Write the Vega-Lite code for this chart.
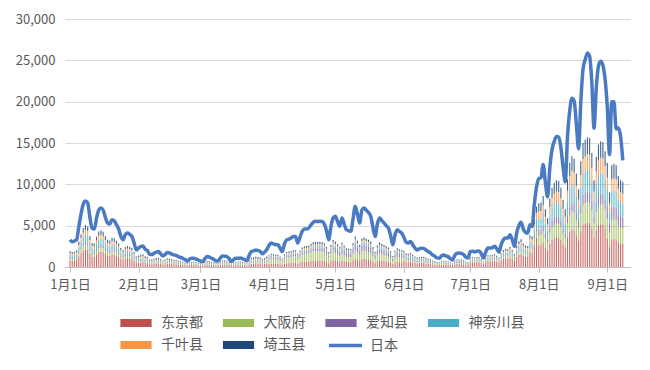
{
"$schema": "https://vega.github.io/schema/vega-lite/v6.json",
"autosize": "none",
"width": 565,
"height": 248,
"padding": {"left": 65, "top": 19, "right": 20, "bottom": 103},
"background": "white",
"config": {"font": "Noto Sans CJK SC", "view": {"stroke": null}},
"datasets": {
"names": [
{"k":"T","name":"东京都","i":1},{"k":"O","name":"大阪府","i":2},{"k":"A","name":"爱知县","i":3},
{"k":"K","name":"神奈川县","i":4},{"k":"C","name":"千叶县","i":5},{"k":"S","name":"埼玉县","i":6}],
"days": [
{"d":"2021-01-01","j":3290,"T":798,"O":228,"A":114,"K":323,"C":209,"S":228},
{"d":"2021-01-02","j":3050,"T":756,"O":216,"A":108,"K":306,"C":198,"S":216},
{"d":"2021-01-03","j":3150,"T":777,"O":222,"A":111,"K":315,"C":204,"S":222},
{"d":"2021-01-04","j":3300,"T":840,"O":240,"A":120,"K":340,"C":220,"S":240},
{"d":"2021-01-05","j":4900,"T":1277,"O":365,"A":182,"K":517,"C":334,"S":365},
{"d":"2021-01-06","j":6400,"T":1667,"O":476,"A":238,"K":675,"C":437,"S":476},
{"d":"2021-01-07","j":7600,"T":1978,"O":565,"A":283,"K":801,"C":518,"S":565},
{"d":"2021-01-08","j":7970,"T":2142,"O":612,"A":306,"K":867,"C":561,"S":612},
{"d":"2021-01-09","j":7760,"T":2058,"O":588,"A":294,"K":833,"C":539,"S":588},
{"d":"2021-01-10","j":6000,"T":1562,"O":446,"A":223,"K":632,"C":409,"S":446},
{"d":"2021-01-11","j":4700,"T":1222,"O":349,"A":175,"K":495,"C":320,"S":349},
{"d":"2021-01-12","j":4600,"T":1197,"O":342,"A":171,"K":485,"C":314,"S":342},
{"d":"2021-01-13","j":5900,"T":1537,"O":439,"A":220,"K":622,"C":403,"S":439},
{"d":"2021-01-14","j":6900,"T":1798,"O":514,"A":257,"K":728,"C":471,"S":514},
{"d":"2021-01-15","j":7150,"T":1861,"O":532,"A":266,"K":753,"C":487,"S":532},
{"d":"2021-01-16","j":6870,"T":1789,"O":511,"A":256,"K":724,"C":469,"S":511},
{"d":"2021-01-17","j":6000,"T":1562,"O":446,"A":223,"K":632,"C":409,"S":446},
{"d":"2021-01-18","j":5330,"T":1386,"O":396,"A":198,"K":561,"C":363,"S":396},
{"d":"2021-01-19","j":5200,"T":1352,"O":386,"A":193,"K":547,"C":354,"S":386},
{"d":"2021-01-20","j":5730,"T":1491,"O":426,"A":213,"K":604,"C":391,"S":426},
{"d":"2021-01-21","j":5600,"T":1457,"O":416,"A":208,"K":590,"C":382,"S":416},
{"d":"2021-01-22","j":5120,"T":1331,"O":380,"A":190,"K":539,"C":349,"S":380},
{"d":"2021-01-23","j":4600,"T":1197,"O":342,"A":171,"K":485,"C":314,"S":342},
{"d":"2021-01-24","j":3700,"T":962,"O":275,"A":137,"K":389,"C":252,"S":275},
{"d":"2021-01-25","j":3290,"T":857,"O":245,"A":122,"K":347,"C":224,"S":245},
{"d":"2021-01-26","j":3900,"T":1016,"O":290,"A":145,"K":411,"C":266,"S":290},
{"d":"2021-01-27","j":4100,"T":1067,"O":305,"A":152,"K":432,"C":279,"S":305},
{"d":"2021-01-28","j":3950,"T":1029,"O":294,"A":147,"K":417,"C":270,"S":294},
{"d":"2021-01-29","j":3700,"T":962,"O":275,"A":137,"K":389,"C":252,"S":275},
{"d":"2021-01-30","j":2900,"T":756,"O":216,"A":108,"K":306,"C":198,"S":216},
{"d":"2021-01-31","j":2070,"T":538,"O":154,"A":77,"K":218,"C":141,"S":154},
{"d":"2021-02-01","j":2300,"T":511,"O":166,"A":69,"K":235,"C":193,"S":207},
{"d":"2021-02-02","j":2480,"T":551,"O":179,"A":75,"K":253,"C":209,"S":224},
{"d":"2021-02-03","j":2550,"T":566,"O":184,"A":77,"K":260,"C":214,"S":230},
{"d":"2021-02-04","j":2150,"T":477,"O":155,"A":65,"K":219,"C":181,"S":194},
{"d":"2021-02-05","j":2000,"T":444,"O":144,"A":60,"K":204,"C":168,"S":180},
{"d":"2021-02-06","j":1540,"T":340,"O":110,"A":46,"K":156,"C":129,"S":138},
{"d":"2021-02-07","j":1500,"T":333,"O":108,"A":45,"K":153,"C":126,"S":135},
{"d":"2021-02-08","j":1670,"T":370,"O":120,"A":50,"K":170,"C":140,"S":150},
{"d":"2021-02-09","j":1800,"T":400,"O":130,"A":54,"K":184,"C":151,"S":162},
{"d":"2021-02-10","j":1870,"T":414,"O":134,"A":56,"K":190,"C":157,"S":168},
{"d":"2021-02-11","j":1600,"T":355,"O":115,"A":48,"K":163,"C":134,"S":144},
{"d":"2021-02-12","j":1340,"T":296,"O":96,"A":40,"K":136,"C":112,"S":120},
{"d":"2021-02-13","j":1500,"T":333,"O":108,"A":45,"K":153,"C":126,"S":135},
{"d":"2021-02-14","j":1750,"T":389,"O":126,"A":53,"K":179,"C":147,"S":158},
{"d":"2021-02-15","j":1700,"T":377,"O":122,"A":51,"K":173,"C":143,"S":153},
{"d":"2021-02-16","j":1550,"T":344,"O":112,"A":47,"K":158,"C":130,"S":140},
{"d":"2021-02-17","j":1460,"T":326,"O":106,"A":44,"K":150,"C":123,"S":132},
{"d":"2021-02-18","j":1400,"T":311,"O":101,"A":42,"K":143,"C":118,"S":126},
{"d":"2021-02-19","j":1260,"T":281,"O":91,"A":38,"K":129,"C":106,"S":114},
{"d":"2021-02-20","j":1150,"T":255,"O":83,"A":35,"K":117,"C":97,"S":104},
{"d":"2021-02-21","j":1060,"T":237,"O":77,"A":32,"K":109,"C":90,"S":96},
{"d":"2021-02-22","j":900,"T":200,"O":65,"A":27,"K":92,"C":76,"S":81},
{"d":"2021-02-23","j":730,"T":163,"O":53,"A":22,"K":75,"C":62,"S":66},
{"d":"2021-02-24","j":950,"T":211,"O":68,"A":29,"K":97,"C":80,"S":86},
{"d":"2021-02-25","j":1060,"T":237,"O":77,"A":32,"K":109,"C":90,"S":96},
{"d":"2021-02-26","j":1060,"T":237,"O":77,"A":32,"K":109,"C":90,"S":96},
{"d":"2021-02-27","j":950,"T":211,"O":68,"A":29,"K":97,"C":80,"S":86},
{"d":"2021-02-28","j":850,"T":189,"O":61,"A":26,"K":87,"C":71,"S":77},
{"d":"2021-03-01","j":700,"T":139,"O":59,"A":21,"K":67,"C":63,"S":71},
{"d":"2021-03-02","j":650,"T":129,"O":55,"A":20,"K":62,"C":59,"S":66},
{"d":"2021-03-03","j":1000,"T":198,"O":84,"A":30,"K":96,"C":90,"S":102},
{"d":"2021-03-04","j":1260,"T":251,"O":106,"A":38,"K":122,"C":114,"S":129},
{"d":"2021-03-05","j":1200,"T":238,"O":101,"A":36,"K":115,"C":108,"S":122},
{"d":"2021-03-06","j":1060,"T":211,"O":90,"A":32,"K":102,"C":96,"S":109},
{"d":"2021-03-07","j":950,"T":188,"O":80,"A":29,"K":91,"C":86,"S":97},
{"d":"2021-03-08","j":750,"T":149,"O":63,"A":23,"K":72,"C":68,"S":77},
{"d":"2021-03-09","j":730,"T":145,"O":62,"A":22,"K":70,"C":66,"S":75},
{"d":"2021-03-10","j":1100,"T":218,"O":92,"A":33,"K":106,"C":99,"S":112},
{"d":"2021-03-11","j":1340,"T":264,"O":112,"A":40,"K":128,"C":120,"S":136},
{"d":"2021-03-12","j":1300,"T":257,"O":109,"A":39,"K":125,"C":117,"S":133},
{"d":"2021-03-13","j":1260,"T":251,"O":106,"A":38,"K":122,"C":114,"S":129},
{"d":"2021-03-14","j":1000,"T":198,"O":84,"A":30,"K":96,"C":90,"S":102},
{"d":"2021-03-15","j":650,"T":129,"O":55,"A":20,"K":62,"C":59,"S":66},
{"d":"2021-03-16","j":900,"T":178,"O":76,"A":27,"K":86,"C":81,"S":92},
{"d":"2021-03-17","j":1060,"T":211,"O":90,"A":32,"K":102,"C":96,"S":109},
{"d":"2021-03-18","j":1060,"T":211,"O":90,"A":32,"K":102,"C":96,"S":109},
{"d":"2021-03-19","j":1080,"T":215,"O":91,"A":33,"K":104,"C":98,"S":111},
{"d":"2021-03-20","j":1000,"T":198,"O":84,"A":30,"K":96,"C":90,"S":102},
{"d":"2021-03-21","j":900,"T":178,"O":76,"A":27,"K":86,"C":81,"S":92},
{"d":"2021-03-22","j":770,"T":152,"O":64,"A":23,"K":74,"C":69,"S":78},
{"d":"2021-03-23","j":1400,"T":277,"O":118,"A":42,"K":134,"C":126,"S":143},
{"d":"2021-03-24","j":1870,"T":370,"O":157,"A":56,"K":179,"C":168,"S":190},
{"d":"2021-03-25","j":1950,"T":386,"O":164,"A":59,"K":187,"C":176,"S":199},
{"d":"2021-03-26","j":2070,"T":409,"O":174,"A":62,"K":198,"C":186,"S":211},
{"d":"2021-03-27","j":2000,"T":396,"O":168,"A":60,"K":192,"C":180,"S":204},
{"d":"2021-03-28","j":1900,"T":376,"O":160,"A":57,"K":182,"C":171,"S":194},
{"d":"2021-03-29","j":1600,"T":317,"O":134,"A":48,"K":154,"C":144,"S":163},
{"d":"2021-03-30","j":1800,"T":356,"O":151,"A":54,"K":173,"C":162,"S":184},
{"d":"2021-03-31","j":2100,"T":416,"O":176,"A":63,"K":202,"C":189,"S":214},
{"d":"2021-04-01","j":2600,"T":358,"O":543,"A":172,"K":129,"C":100,"S":129},
{"d":"2021-04-02","j":2890,"T":398,"O":604,"A":191,"K":143,"C":111,"S":143},
{"d":"2021-04-03","j":2800,"T":385,"O":585,"A":185,"K":139,"C":108,"S":139},
{"d":"2021-04-04","j":2700,"T":373,"O":566,"A":179,"K":134,"C":104,"S":134},
{"d":"2021-04-05","j":2680,"T":368,"O":559,"A":176,"K":132,"C":103,"S":132},
{"d":"2021-04-06","j":2300,"T":318,"O":483,"A":152,"K":114,"C":89,"S":114},
{"d":"2021-04-07","j":1870,"T":258,"O":391,"A":124,"K":93,"C":72,"S":93},
{"d":"2021-04-08","j":2800,"T":385,"O":585,"A":185,"K":139,"C":108,"S":139},
{"d":"2021-04-09","j":3300,"T":455,"O":692,"A":218,"K":164,"C":127,"S":164},
{"d":"2021-04-10","j":3370,"T":463,"O":703,"A":222,"K":167,"C":130,"S":167},
{"d":"2021-04-11","j":3500,"T":483,"O":733,"A":232,"K":174,"C":135,"S":174},
{"d":"2021-04-12","j":3700,"T":510,"O":775,"A":245,"K":184,"C":143,"S":184},
{"d":"2021-04-13","j":3700,"T":510,"O":775,"A":245,"K":184,"C":143,"S":184},
{"d":"2021-04-14","j":2890,"T":398,"O":604,"A":191,"K":143,"C":111,"S":143},
{"d":"2021-04-15","j":3600,"T":495,"O":752,"A":238,"K":178,"C":139,"S":178},
{"d":"2021-04-16","j":4300,"T":593,"O":901,"A":284,"K":213,"C":166,"S":213},
{"d":"2021-04-17","j":4590,"T":630,"O":958,"A":302,"K":227,"C":176,"S":227},
{"d":"2021-04-18","j":4600,"T":633,"O":961,"A":304,"K":228,"C":177,"S":228},
{"d":"2021-04-19","j":4720,"T":650,"O":988,"A":312,"K":234,"C":182,"S":234},
{"d":"2021-04-20","j":5100,"T":703,"O":1068,"A":337,"K":253,"C":197,"S":253},
{"d":"2021-04-21","j":5410,"T":745,"O":1132,"A":358,"K":268,"C":209,"S":268},
{"d":"2021-04-22","j":5530,"T":760,"O":1155,"A":365,"K":274,"C":213,"S":274},
{"d":"2021-04-23","j":5500,"T":758,"O":1151,"A":364,"K":273,"C":212,"S":273},
{"d":"2021-04-24","j":5530,"T":760,"O":1155,"A":365,"K":274,"C":213,"S":274},
{"d":"2021-04-25","j":5500,"T":758,"O":1151,"A":364,"K":273,"C":212,"S":273},
{"d":"2021-04-26","j":5200,"T":715,"O":1087,"A":343,"K":257,"C":200,"S":257},
{"d":"2021-04-27","j":4400,"T":605,"O":920,"A":290,"K":218,"C":169,"S":218},
{"d":"2021-04-28","j":3290,"T":453,"O":688,"A":217,"K":163,"C":127,"S":163},
{"d":"2021-04-29","j":4900,"T":675,"O":1026,"A":324,"K":243,"C":189,"S":243},
{"d":"2021-04-30","j":5930,"T":815,"O":1239,"A":391,"K":293,"C":228,"S":293},
{"d":"2021-05-01","j":6140,"T":829,"O":860,"A":614,"K":307,"C":184,"S":276},
{"d":"2021-05-02","j":5500,"T":743,"O":770,"A":550,"K":275,"C":165,"S":248},
{"d":"2021-05-03","j":4920,"T":664,"O":689,"A":492,"K":246,"C":148,"S":221},
{"d":"2021-05-04","j":5930,"T":802,"O":832,"A":594,"K":297,"C":178,"S":267},
{"d":"2021-05-05","j":5200,"T":702,"O":728,"A":520,"K":260,"C":156,"S":234},
{"d":"2021-05-06","j":4510,"T":610,"O":633,"A":452,"K":226,"C":136,"S":203},
{"d":"2021-05-07","j":4400,"T":594,"O":616,"A":440,"K":220,"C":132,"S":198},
{"d":"2021-05-08","j":4310,"T":583,"O":605,"A":432,"K":216,"C":130,"S":194},
{"d":"2021-05-09","j":5800,"T":783,"O":812,"A":580,"K":290,"C":174,"S":261},
{"d":"2021-05-10","j":7360,"T":994,"O":1030,"A":736,"K":368,"C":221,"S":331},
{"d":"2021-05-11","j":6400,"T":864,"O":896,"A":640,"K":320,"C":192,"S":288},
{"d":"2021-05-12","j":5330,"T":721,"O":748,"A":534,"K":267,"C":160,"S":240},
{"d":"2021-05-13","j":6900,"T":932,"O":966,"A":690,"K":345,"C":207,"S":311},
{"d":"2021-05-14","j":7150,"T":967,"O":1002,"A":716,"K":358,"C":215,"S":322},
{"d":"2021-05-15","j":6870,"T":929,"O":963,"A":688,"K":344,"C":206,"S":310},
{"d":"2021-05-16","j":6600,"T":891,"O":924,"A":660,"K":330,"C":198,"S":297},
{"d":"2021-05-17","j":6140,"T":829,"O":860,"A":614,"K":307,"C":184,"S":276},
{"d":"2021-05-18","j":4800,"T":648,"O":672,"A":480,"K":240,"C":144,"S":216},
{"d":"2021-05-19","j":3700,"T":500,"O":518,"A":370,"K":185,"C":111,"S":167},
{"d":"2021-05-20","j":5200,"T":702,"O":728,"A":520,"K":260,"C":156,"S":234},
{"d":"2021-05-21","j":5930,"T":802,"O":832,"A":594,"K":297,"C":178,"S":267},
{"d":"2021-05-22","j":5600,"T":756,"O":784,"A":560,"K":280,"C":168,"S":252},
{"d":"2021-05-23","j":5330,"T":721,"O":748,"A":534,"K":267,"C":160,"S":240},
{"d":"2021-05-24","j":5000,"T":675,"O":700,"A":500,"K":250,"C":150,"S":225},
{"d":"2021-05-25","j":4720,"T":637,"O":661,"A":472,"K":236,"C":142,"S":212},
{"d":"2021-05-26","j":3800,"T":513,"O":532,"A":380,"K":190,"C":114,"S":171},
{"d":"2021-05-27","j":2680,"T":362,"O":375,"A":268,"K":134,"C":80,"S":121},
{"d":"2021-05-28","j":3900,"T":527,"O":546,"A":390,"K":195,"C":117,"S":176},
{"d":"2021-05-29","j":4510,"T":610,"O":633,"A":452,"K":226,"C":136,"S":203},
{"d":"2021-05-30","j":4300,"T":581,"O":602,"A":430,"K":215,"C":129,"S":194},
{"d":"2021-05-31","j":4100,"T":554,"O":574,"A":410,"K":205,"C":123,"S":185},
{"d":"2021-06-01","j":3600,"T":752,"O":297,"A":238,"K":277,"C":178,"S":238},
{"d":"2021-06-02","j":3000,"T":627,"O":248,"A":198,"K":231,"C":149,"S":198},
{"d":"2021-06-03","j":2900,"T":608,"O":240,"A":192,"K":224,"C":144,"S":192},
{"d":"2021-06-04","j":3090,"T":646,"O":255,"A":204,"K":238,"C":153,"S":204},
{"d":"2021-06-05","j":2700,"T":566,"O":224,"A":179,"K":209,"C":134,"S":179},
{"d":"2021-06-06","j":2300,"T":483,"O":191,"A":152,"K":178,"C":114,"S":152},
{"d":"2021-06-07","j":2070,"T":433,"O":171,"A":137,"K":160,"C":103,"S":137},
{"d":"2021-06-08","j":2200,"T":460,"O":182,"A":145,"K":169,"C":109,"S":145},
{"d":"2021-06-09","j":2280,"T":475,"O":188,"A":150,"K":175,"C":113,"S":150},
{"d":"2021-06-10","j":2250,"T":471,"O":186,"A":149,"K":174,"C":112,"S":149},
{"d":"2021-06-11","j":2050,"T":429,"O":170,"A":136,"K":158,"C":102,"S":136},
{"d":"2021-06-12","j":1870,"T":391,"O":155,"A":124,"K":144,"C":93,"S":124},
{"d":"2021-06-13","j":1700,"T":357,"O":141,"A":113,"K":132,"C":85,"S":113},
{"d":"2021-06-14","j":1460,"T":304,"O":120,"A":96,"K":112,"C":72,"S":96},
{"d":"2021-06-15","j":1300,"T":274,"O":108,"A":86,"K":101,"C":65,"S":86},
{"d":"2021-06-16","j":1100,"T":232,"O":92,"A":73,"K":85,"C":55,"S":73},
{"d":"2021-06-17","j":1060,"T":220,"O":87,"A":70,"K":81,"C":52,"S":70},
{"d":"2021-06-18","j":1350,"T":281,"O":111,"A":89,"K":104,"C":67,"S":89},
{"d":"2021-06-19","j":1460,"T":304,"O":120,"A":96,"K":112,"C":72,"S":96},
{"d":"2021-06-20","j":1330,"T":277,"O":110,"A":88,"K":102,"C":66,"S":88},
{"d":"2021-06-21","j":1260,"T":262,"O":104,"A":83,"K":97,"C":62,"S":83},
{"d":"2021-06-22","j":1000,"T":209,"O":83,"A":66,"K":77,"C":50,"S":66},
{"d":"2021-06-23","j":850,"T":179,"O":71,"A":56,"K":66,"C":42,"S":56},
{"d":"2021-06-24","j":1400,"T":293,"O":116,"A":92,"K":108,"C":69,"S":92},
{"d":"2021-06-25","j":1670,"T":350,"O":138,"A":110,"K":129,"C":83,"S":110},
{"d":"2021-06-26","j":1700,"T":357,"O":141,"A":113,"K":132,"C":85,"S":113},
{"d":"2021-06-27","j":1650,"T":346,"O":137,"A":109,"K":127,"C":82,"S":109},
{"d":"2021-06-28","j":1500,"T":315,"O":125,"A":100,"K":116,"C":75,"S":100},
{"d":"2021-06-29","j":1200,"T":251,"O":99,"A":79,"K":92,"C":59,"S":79},
{"d":"2021-06-30","j":1100,"T":232,"O":92,"A":73,"K":85,"C":55,"S":73},
{"d":"2021-07-01","j":1850,"T":552,"O":138,"A":46,"K":184,"C":115,"S":115},
{"d":"2021-07-02","j":1900,"T":566,"O":142,"A":47,"K":189,"C":118,"S":118},
{"d":"2021-07-03","j":1850,"T":552,"O":138,"A":46,"K":184,"C":115,"S":115},
{"d":"2021-07-04","j":1900,"T":566,"O":142,"A":47,"K":189,"C":118,"S":118},
{"d":"2021-07-05","j":1950,"T":581,"O":145,"A":48,"K":194,"C":121,"S":121},
{"d":"2021-07-06","j":1600,"T":475,"O":119,"A":40,"K":158,"C":99,"S":99},
{"d":"2021-07-07","j":1100,"T":326,"O":82,"A":27,"K":109,"C":68,"S":68},
{"d":"2021-07-08","j":1800,"T":538,"O":134,"A":45,"K":179,"C":112,"S":112},
{"d":"2021-07-09","j":2300,"T":686,"O":172,"A":57,"K":229,"C":143,"S":143},
{"d":"2021-07-10","j":2300,"T":686,"O":172,"A":57,"K":229,"C":143,"S":143},
{"d":"2021-07-11","j":2350,"T":701,"O":175,"A":58,"K":234,"C":146,"S":146},
{"d":"2021-07-12","j":2500,"T":744,"O":186,"A":62,"K":248,"C":155,"S":155},
{"d":"2021-07-13","j":2200,"T":653,"O":163,"A":54,"K":218,"C":136,"S":136},
{"d":"2021-07-14","j":1800,"T":538,"O":134,"A":45,"K":179,"C":112,"S":112},
{"d":"2021-07-15","j":2700,"T":802,"O":200,"A":67,"K":267,"C":167,"S":167},
{"d":"2021-07-16","j":3300,"T":984,"O":246,"A":82,"K":328,"C":205,"S":205},
{"d":"2021-07-17","j":3500,"T":1042,"O":260,"A":87,"K":347,"C":217,"S":217},
{"d":"2021-07-18","j":3500,"T":1042,"O":260,"A":87,"K":347,"C":217,"S":217},
{"d":"2021-07-19","j":3900,"T":1162,"O":290,"A":97,"K":387,"C":242,"S":242},
{"d":"2021-07-20","j":3300,"T":984,"O":246,"A":82,"K":328,"C":205,"S":205},
{"d":"2021-07-21","j":2500,"T":744,"O":186,"A":62,"K":248,"C":155,"S":155},
{"d":"2021-07-22","j":4100,"T":1219,"O":305,"A":102,"K":406,"C":254,"S":254},
{"d":"2021-07-23","j":5000,"T":1488,"O":372,"A":124,"K":496,"C":310,"S":310},
{"d":"2021-07-24","j":5400,"T":1608,"O":402,"A":134,"K":536,"C":335,"S":335},
{"d":"2021-07-25","j":4600,"T":1368,"O":342,"A":114,"K":456,"C":285,"S":285},
{"d":"2021-07-26","j":4200,"T":1248,"O":312,"A":104,"K":416,"C":260,"S":260},
{"d":"2021-07-27","j":4100,"T":1219,"O":305,"A":102,"K":406,"C":254,"S":254},
{"d":"2021-07-28","j":5100,"T":1838,"O":460,"A":153,"K":613,"C":383,"S":383},
{"d":"2021-07-29","j":4900,"T":1766,"O":442,"A":147,"K":589,"C":368,"S":368},
{"d":"2021-07-30","j":7600,"T":2736,"O":684,"A":228,"K":912,"C":570,"S":570},
{"d":"2021-07-31","j":9700,"T":3494,"O":874,"A":291,"K":1165,"C":728,"S":728},
{"d":"2021-08-01","j":10700,"T":2618,"O":1232,"A":616,"K":1309,"C":924,"S":1001},
{"d":"2021-08-02","j":10800,"T":2652,"O":1248,"A":624,"K":1326,"C":936,"S":1014},
{"d":"2021-08-03","j":12400,"T":2924,"O":1376,"A":688,"K":1462,"C":1032,"S":1118},
{"d":"2021-08-04","j":10200,"T":2380,"O":1120,"A":560,"K":1190,"C":840,"S":910},
{"d":"2021-08-05","j":8500,"T":2006,"O":944,"A":472,"K":1003,"C":708,"S":767},
{"d":"2021-08-06","j":12000,"T":2822,"O":1328,"A":664,"K":1411,"C":996,"S":1079},
{"d":"2021-08-07","j":14200,"T":3264,"O":1536,"A":768,"K":1632,"C":1152,"S":1248},
{"d":"2021-08-08","j":15200,"T":3468,"O":1632,"A":816,"K":1734,"C":1224,"S":1326},
{"d":"2021-08-09","j":15800,"T":3570,"O":1680,"A":840,"K":1785,"C":1260,"S":1365},
{"d":"2021-08-10","j":15700,"T":3536,"O":1664,"A":832,"K":1768,"C":1248,"S":1352},
{"d":"2021-08-11","j":14500,"T":3264,"O":1536,"A":768,"K":1632,"C":1152,"S":1248},
{"d":"2021-08-12","j":12100,"T":2754,"O":1296,"A":648,"K":1377,"C":972,"S":1053},
{"d":"2021-08-13","j":10300,"T":2380,"O":1120,"A":560,"K":1190,"C":840,"S":910},
{"d":"2021-08-14","j":15800,"T":3604,"O":1696,"A":848,"K":1802,"C":1272,"S":1378},
{"d":"2021-08-15","j":18900,"T":4284,"O":2016,"A":1008,"K":2142,"C":1512,"S":1638},
{"d":"2021-08-16","j":20400,"T":4556,"O":2144,"A":1072,"K":2278,"C":1608,"S":1742},
{"d":"2021-08-17","j":20100,"T":4454,"O":2096,"A":1048,"K":2227,"C":1572,"S":1703},
{"d":"2021-08-18","j":17300,"T":3842,"O":1808,"A":904,"K":1921,"C":1356,"S":1469},
{"d":"2021-08-19","j":14300,"T":3196,"O":1504,"A":752,"K":1598,"C":1128,"S":1222},
{"d":"2021-08-20","j":19900,"T":4352,"O":2048,"A":1024,"K":2176,"C":1536,"S":1664},
{"d":"2021-08-21","j":23900,"T":5100,"O":2400,"A":1200,"K":2550,"C":1800,"S":1950},
{"d":"2021-08-22","j":25100,"T":5236,"O":2464,"A":1232,"K":2618,"C":1848,"S":2002},
{"d":"2021-08-23","j":25900,"T":5338,"O":2512,"A":1256,"K":2669,"C":1884,"S":2041},
{"d":"2021-08-24","j":25500,"T":5304,"O":2496,"A":1248,"K":2652,"C":1872,"S":2028},
{"d":"2021-08-25","j":22300,"T":4692,"O":2208,"A":1104,"K":2346,"C":1656,"S":1794},
{"d":"2021-08-26","j":16800,"T":3570,"O":1680,"A":840,"K":1785,"C":1260,"S":1365},
{"d":"2021-08-27","j":21600,"T":4522,"O":2128,"A":1064,"K":2261,"C":1596,"S":1729},
{"d":"2021-08-28","j":24300,"T":5032,"O":2368,"A":1184,"K":2516,"C":1776,"S":1924},
{"d":"2021-08-29","j":24900,"T":5168,"O":2432,"A":1216,"K":2584,"C":1824,"S":1976},
{"d":"2021-08-30","j":24400,"T":5134,"O":2416,"A":1208,"K":2567,"C":1812,"S":1963},
{"d":"2021-08-31","j":22700,"T":4760,"O":2240,"A":1120,"K":2380,"C":1680,"S":1820},
{"d":"2021-09-01","j":19300,"T":3402,"O":2394,"A":1512,"K":2016,"C":1512,"S":1764},
{"d":"2021-09-02","j":13600,"T":2430,"O":1710,"A":1080,"K":1440,"C":1080,"S":1260},
{"d":"2021-09-03","j":20000,"T":3321,"O":2337,"A":1476,"K":1968,"C":1476,"S":1722},
{"d":"2021-09-04","j":20000,"T":3375,"O":2375,"A":1500,"K":2000,"C":1500,"S":1750},
{"d":"2021-09-05","j":16700,"T":3321,"O":2337,"A":1476,"K":1968,"C":1476,"S":1722},
{"d":"2021-09-06","j":16800,"T":2970,"O":2090,"A":1320,"K":1760,"C":1320,"S":1540},
{"d":"2021-09-07","j":15800,"T":2835,"O":1995,"A":1260,"K":1680,"C":1260,"S":1470},
{"d":"2021-09-08","j":12900,"T":2781,"O":1957,"A":1236,"K":1648,"C":1236,"S":1442}
]},
"data": {"name": "days"},
"encoding": {
"x": {"field": "d", "type": "temporal",
 "scale": {"type": "utc", "domain": [{"year": 2021, "month": 1, "date": 1, "utc": true}, {"year": 2021, "month": 9, "date": 9, "utc": true}]},
 "axis": {"title": null, "format": "%-m月%-d日", "grid": false,
  "values": [{"year":2021,"month":1,"date":1,"utc":true},{"year":2021,"month":2,"date":1,"utc":true},{"year":2021,"month":3,"date":1,"utc":true},{"year":2021,"month":4,"date":1,"utc":true},{"year":2021,"month":5,"date":1,"utc":true},{"year":2021,"month":6,"date":1,"utc":true},{"year":2021,"month":7,"date":1,"utc":true},{"year":2021,"month":8,"date":1,"utc":true},{"year":2021,"month":9,"date":1,"utc":true}],
  "labelFlush": false, "labelOverlap": false, "labelFontSize": 13, "labelColor": "#595959", "labelPadding": 6,
  "tickSize": 5, "tickColor": "#bfbfbf", "domainColor": "#bfbfbf", "domainWidth": 1}}
},
"layer": [
{"transform": [{"fold": ["T","O","A","K","C","S"], "as": ["k","n"]},
  {"lookup": "k", "from": {"data": {"name": "names"}, "key": "k", "fields": ["name","i"]}}],
 "mark": {"type": "bar", "size": 1.1, "opacity": 0.85},
 "encoding": {
  "y": {"field": "n", "type": "quantitative", "stack": "zero",
   "scale": {"domain": [0, 30000], "nice": false},
   "axis": {"title": null, "values": [0,5000,10000,15000,20000,25000,30000], "format": ",d", "domain": false, "ticks": false,
    "labelFontSize": 13, "labelColor": "#595959", "labelPadding": 10, "gridColor": "#d9d9d9", "gridWidth": 1}},
  "color": {"field": "name", "type": "nominal",
   "scale": {"domain": ["东京都","大阪府","爱知县","神奈川县","千叶县","埼玉县"], "range": ["#C0504D","#9BBB59","#8064A2","#4BACC6","#F79646","#1F497D"]},
   "legend": {"orient": "none", "legendX": 64, "legendY": 297, "direction": "horizontal", "columns": 4, "title": null,
    "symbolType": "M-3.9,-1H3.9V1H-3.9Z", "symbolSize": 64, "symbolOpacity": 1, "labelOffset": 18, "labelFontSize": 14, "labelColor": "#595959",
    "columnPadding": 5.5, "rowPadding": 8, "gridAlign": "all", "padding": 0}},
  "order": {"field": "i", "type": "quantitative"}
 }},
{"mark": {"type": "line", "strokeWidth": 3.5, "interpolate": "monotone"},
 "encoding": {
  "y": {"field": "j", "type": "quantitative"},
  "stroke": {"datum": "日本", "type": "nominal", "scale": {"range": ["#4A7BC2"]},
   "legend": {"orient": "none", "legendX": 262, "legendY": 308, "title": null, "symbolType": "stroke", "symbolSize": 1100,
    "symbolStrokeWidth": 3.5, "labelOffset": 6, "labelFontSize": 14, "labelColor": "#595959", "padding": 0}}
 }}
]
}
